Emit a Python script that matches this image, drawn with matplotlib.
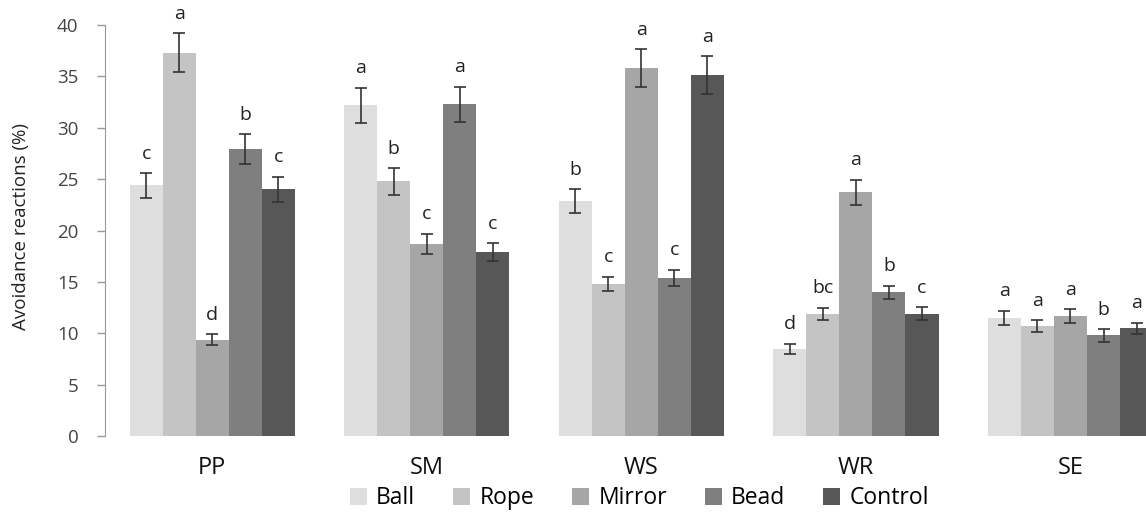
import matplotlib
matplotlib.use('Agg')
import matplotlib.pyplot as plt
import numpy as np

plt.rcParams['font.family'] = ['Open Sans', 'DejaVu Sans']

species = ['PP', 'SM', 'WS', 'WR', 'SE']
objects = ['Ball', 'Rope', 'Mirror', 'Bead', 'Control']
colors = ['#dedede', '#c4c4c4', '#a6a6a6', '#7f7f7f', '#575757']

# mean avoidance (%) per object, one list per species
ball = [24.4, 32.2, 22.9, 8.5, 11.5]
rope = [37.3, 24.8, 14.8, 11.9, 10.7]
mirror = [9.4, 18.7, 35.8, 23.7, 11.7]
bead = [27.9, 32.3, 15.4, 14.0, 9.8]
control = [24.0, 17.9, 35.1, 11.9, 10.5]

ball_err = [1.2, 1.7, 1.15, 0.5, 0.7]
rope_err = [1.9, 1.3, 0.7, 0.6, 0.6]
mirror_err = [0.5, 1.0, 1.85, 1.25, 0.65]
bead_err = [1.45, 1.7, 0.8, 0.65, 0.6]
control_err = [1.25, 0.9, 1.85, 0.65, 0.55]

ball_lab = ['c', 'a', 'b', 'd', 'a']
rope_lab = ['a', 'b', 'c', 'bc', 'a']
mirror_lab = ['d', 'c', 'a', 'a', 'a']
bead_lab = ['b', 'a', 'c', 'b', 'b']
control_lab = ['c', 'c', 'a', 'c', 'a']

means = [ball, rope, mirror, bead, control]
errs = [ball_err, rope_err, mirror_err, bead_err, control_err]
labs = [ball_lab, rope_lab, mirror_lab, bead_lab, control_lab]

fig = plt.figure(figsize=(11.46, 5.18), dpi=100)
ax = fig.add_axes([0.0916, 0.158, 0.9084, 0.794])

x = np.arange(len(species))
width = 0.154
for i, obj in enumerate(objects):
    pos = x + (i - 2) * width
    ax.bar(pos, means[i], width, color=colors[i], label=obj)
    ax.errorbar(pos, means[i], yerr=errs[i], fmt='none', ecolor='#333333',
                elinewidth=1.2, capsize=4, capthick=1.2)
    for p, m, e, t in zip(pos, means[i], errs[i], labs[i]):
        ax.text(p, m + e + 1.0, t, ha='center', va='bottom', fontsize=14,
                color='#222222')

ax.set_xlim(-0.5, 4.352)
ax.set_ylim(0, 40)
ax.set_yticks(np.arange(0, 41, 5))
ax.set_xticks(x, species)
ax.tick_params(axis='x', length=0, pad=14, labelsize=17, colors='#111111')
ax.tick_params(axis='y', length=6, width=1, color='#999999', labelsize=13.5,
               labelcolor='#444444', pad=13)
for s in ['top', 'right', 'bottom']:
    ax.spines[s].set_visible(False)
ax.spines['left'].set_color('#999999')
ax.set_ylabel('Avoidance reactions (%)', fontsize=13.5, color='#222222')
ax.yaxis.set_label_coords(-0.072, 0.51)

fig.legend(loc='lower center', ncols=5, frameon=False, fontsize=16.5,
           bbox_to_anchor=(0.558, -0.025), handlelength=0.75, handleheight=0.75,
           handletextpad=0.4, columnspacing=1.65)

fig.savefig('out.png', dpi=100)
